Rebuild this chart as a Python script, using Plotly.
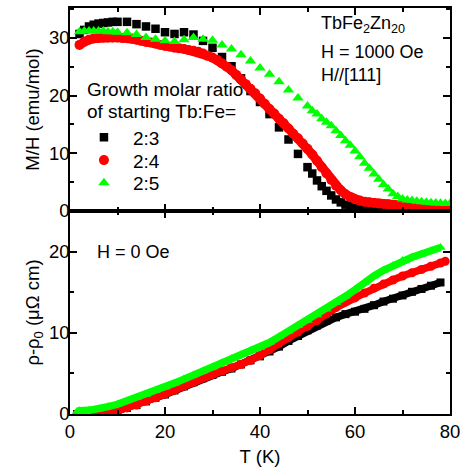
import plotly.graph_objects as go
from plotly.subplots import make_subplots

# ---------------- data: top panel, M/H (emu/mol) vs T (K) ----------------
t_23 = [2, 3, 4, 5, 6, 7, 8, 9, 10, 12, 14, 16, 18, 20, 22, 24, 26, 28, 30, 32, 34, 36, 38,
        40, 42, 44, 46, 48, 50, 51, 52, 53, 54, 55, 56, 57, 58, 59, 60, 61, 62, 63, 64, 65,
        66, 67, 68, 70, 72, 74, 76, 78]
m_23 = [30.7, 31.4, 32.0, 32.3, 32.5, 32.6, 32.7, 32.8, 32.8, 32.8, 32.4, 32.0, 31.6, 31.0,
        30.7, 31.0, 30.6, 29.5, 28.3, 26.7, 25.1, 23.0, 20.8, 18.9, 16.8, 14.5, 12.4, 9.9,
        7.6, 6.5, 5.3, 4.3, 3.5, 2.7, 2.0, 1.5, 1.1, 0.9, 0.7, 0.55, 0.45, 0.38, 0.32, 0.28,
        0.25, 0.23, 0.21, 0.19, 0.17, 0.16, 0.15, 0.14]

t_24 = list(range(2, 81))
m_24 = [28.8, 29.4, 29.7, 29.9, 30.0, 30.1, 30.1, 30.1, 30.1, 30.0, 30.0, 29.9, 29.7, 29.5,
        29.3, 29.2, 29.0, 28.8, 28.6, 28.5, 28.3, 28.2, 28.1, 27.9, 27.8, 27.6, 27.3, 26.9,
        26.6, 26.2, 25.6, 25.0, 24.4, 23.6, 22.8, 22.0, 21.2, 20.4, 19.5, 18.6, 17.7, 16.9,
        16.0, 15.2, 14.3, 13.4, 12.6, 11.7, 10.8, 9.8, 8.7, 7.6, 6.5, 5.4, 4.4, 3.6, 2.9,
        2.4, 2.0, 1.8, 1.6, 1.5, 1.4, 1.3, 1.2, 1.15, 1.1, 1.0, 0.95, 0.85, 0.75, 0.7, 0.6,
        0.55, 0.5, 0.42, 0.36, 0.3, 0.28]

t_25 = [2, 3, 4, 5, 6, 7, 8, 9, 10, 12, 14, 16, 18, 20, 22, 24, 26, 28, 30, 32, 34, 36, 38,
        40, 42, 44, 46, 48, 50, 51, 52, 53, 54, 55, 56, 57, 58, 59, 60, 61, 62, 63, 64, 65,
        66, 67, 68, 69, 70, 71, 72, 73, 74, 75, 76, 77, 78, 79, 80]
m_25 = [31.1, 31.2, 31.2, 31.2, 31.2, 31.2, 31.1, 31.1, 31.0, 30.9, 30.6, 30.1, 29.8, 29.5,
        29.4, 29.7, 30.1, 29.8, 29.6, 28.8, 28.1, 27.1, 26.0, 24.8, 23.7, 22.4, 21.0, 19.6,
        18.2, 17.4, 16.8, 16.0, 15.4, 14.8, 13.9, 13.1, 12.2, 11.4, 10.4, 9.4, 8.3, 7.4, 6.4,
        5.5, 4.6, 3.8, 3.0, 2.5, 2.1, 1.9, 1.8, 1.7, 1.6, 1.5, 1.45, 1.4, 1.35, 1.3, 1.3]

# ---------------- data: bottom panel, rho - rho0 (uOhm cm) vs T (K) ----------------
tr_23 = [1.5, 2, 4, 6, 8, 10, 12, 14, 16, 18, 20, 22, 24, 26, 28, 30, 32, 34, 36, 38, 40, 42,
         44, 46, 48, 50, 52, 54, 56, 58, 60, 62, 64, 66, 68, 70, 72, 74, 76, 78]
r_23 = [0.0, 0.0, 0.0, 0.0, 0.1, 0.4, 0.75, 1.1, 1.55, 2.0, 2.4, 2.9, 3.4, 3.9, 4.4, 4.8, 5.2,
        5.6, 6.1, 6.6, 7.1, 7.7, 8.3, 9.0, 9.6, 10.3, 10.9, 11.5, 11.9, 12.3, 12.6, 12.95,
        13.4, 13.85, 14.2, 14.6, 15.05, 15.4, 15.8, 16.2]

tr_24 = [1.5, 2, 4, 6, 8, 10, 12, 14, 16, 18, 20, 22, 24, 26, 28, 30, 32, 34, 36, 38, 40, 42,
         44, 46, 48, 50, 52, 54, 56, 58, 60, 62, 64, 66, 68, 70, 72, 74, 76, 78, 79]
r_24 = [0.0, 0.0, 0.0, 0.0, 0.1, 0.4, 0.75, 1.1, 1.6, 2.0, 2.45, 2.95, 3.45, 3.95, 4.5, 4.9,
        5.3, 5.7, 6.1, 6.6, 7.2, 7.9, 8.7, 9.4, 10.1, 10.8, 11.5, 12.3, 13.1, 13.8, 14.3,
        14.9, 15.5, 16.0, 16.5, 17.0, 17.4, 17.8, 18.2, 18.6, 18.8]

tr_25 = [1.5, 2, 4, 6, 8, 10, 12, 14, 16, 18, 20, 22, 24, 26, 28, 30, 32, 34, 36, 38, 40, 42,
         44, 46, 48, 50, 52, 54, 56, 58, 60, 62, 64, 66, 68, 70, 72, 74, 76, 78]
r_25 = [0.3, 0.4, 0.45, 0.6, 0.9, 1.2, 1.6, 2.0, 2.4, 2.9, 3.3, 3.8, 4.3, 4.8, 5.3, 5.8, 6.3,
        6.8, 7.3, 7.8, 8.2, 8.8, 9.5, 10.2, 10.9, 11.5, 12.2, 12.9, 13.7, 14.5, 15.3, 16.2,
        17.0, 17.7, 18.3, 18.9, 19.3, 19.7, 20.1, 20.5]

labels = ["2:3", "2:4", "2:5"]
colors = ["#000000", "#FF0000", "#00FF00"]
symbols = ["square", "circle", "triangle-up"]
legend_title_lines = ["Growth molar ratio", "of starting Tb:Fe="]

FONT = "Arial, 'Liberation Sans', Helvetica, sans-serif"

fig = make_subplots(rows=2, cols=1, shared_xaxes=True, vertical_spacing=0)

# top panel
fig.add_trace(go.Scatter(x=t_23, y=m_23, mode="markers", name=labels[0], legend="legend",
                         marker=dict(symbol=symbols[0], size=8.5, color=colors[0])), row=1, col=1)
fig.add_trace(go.Scatter(x=t_24, y=m_24, mode="lines", showlegend=False, hoverinfo="skip",
                         line=dict(color=colors[1], width=9)), row=1, col=1)
fig.add_trace(go.Scatter(x=t_24, y=m_24, mode="markers", name=labels[1], legend="legend2",
                         marker=dict(symbol=symbols[1], size=10, color=colors[1])), row=1, col=1)
fig.add_trace(go.Scatter(x=t_25, y=m_25, mode="markers", name=labels[2], legend="legend3",
                         marker=dict(symbol=symbols[2], size=10, color=colors[2])), row=1, col=1)

# bottom panel
fig.add_trace(go.Scatter(x=tr_23, y=r_23, mode="lines+markers", showlegend=False,
                         line=dict(color=colors[0], width=7.5),
                         marker=dict(symbol=symbols[0], size=8, color=colors[0])), row=2, col=1)
fig.add_trace(go.Scatter(x=tr_24, y=r_24, mode="lines+markers", showlegend=False,
                         line=dict(color=colors[1], width=7.5),
                         marker=dict(symbol=symbols[1], size=9, color=colors[1])), row=2, col=1)
fig.add_trace(go.Scatter(x=tr_25, y=r_25, mode="lines+markers", showlegend=False,
                         line=dict(color=colors[2], width=7.5),
                         marker=dict(symbol=symbols[2], size=9, color=colors[2])), row=2, col=1)

axis_common = dict(showline=True, linecolor="black", linewidth=1.5, mirror="ticks",
                   ticks="inside", ticklen=7, tickwidth=1.5, tickcolor="black",
                   showgrid=False, zeroline=False,
                   tickfont=dict(family=FONT, size=18.5, color="black"))

fig.update_xaxes(range=[0, 80], dtick=20, tick0=0,
                 minor=dict(ticks="inside", ticklen=4, tickwidth=1.5, dtick=10, tickcolor="black"),
                 **axis_common)
fig.update_xaxes(showticklabels=False, row=1, col=1)
fig.update_xaxes(title=dict(text="T (K)", font=dict(family=FONT, size=18.5, color="black"), standoff=9),
                 row=2, col=1)

fig.update_yaxes(minor=dict(ticks="inside", ticklen=4, tickwidth=1.5, dtick=5, tickcolor="black"),
                 ticklabelstandoff=-5, **axis_common)
fig.update_yaxes(range=[0, 35.2], dtick=10, tick0=0, domain=[0.5, 1.0],
                 title=dict(text="M/H (emu/mol)", font=dict(family=FONT, size=18.5, color="black"),
                            standoff=4),
                 row=1, col=1)
fig.update_yaxes(range=[0, 25], dtick=10, tick0=0, domain=[0.0, 0.5],
                 title=dict(text="ρ-ρ<sub>0</sub> (μΩ cm)", font=dict(family=FONT, size=18.5, color="black"),
                            standoff=4),
                 row=2, col=1)

ann_font = dict(family=FONT, size=18, color="black")
leg_font = dict(family=FONT, size=19, color="black")
fig.add_annotation(x=0.654, y=0.959, xref="paper", yref="paper", xanchor="left", yanchor="middle",
                   text="TbFe<sub>2</sub>Zn<sub>20</sub>", showarrow=False, font=ann_font)
fig.add_annotation(x=0.654, y=0.892, xref="paper", yref="paper", xanchor="left", yanchor="middle",
                   text="H = 1000 Oe", showarrow=False, font=ann_font)
fig.add_annotation(x=0.654, y=0.836, xref="paper", yref="paper", xanchor="left", yanchor="middle",
                   text="H//[111]", showarrow=False, font=ann_font)
fig.add_annotation(x=0.065, y=0.400, xref="paper", yref="paper", xanchor="left", yanchor="middle",
                   text="H = 0 Oe", showarrow=False, font=ann_font)
# legend heading (two lines)
fig.add_annotation(x=0.039, y=0.799, xref="paper", yref="paper", xanchor="left", yanchor="middle",
                   text=legend_title_lines[0], showarrow=False, font=leg_font)
fig.add_annotation(x=0.039, y=0.745, xref="paper", yref="paper", xanchor="left", yanchor="middle",
                   text=legend_title_lines[1], showarrow=False, font=leg_font)

leg_common = dict(x=0.013, xanchor="left", yanchor="middle", bgcolor="rgba(0,0,0,0)",
                  borderwidth=0, font=leg_font, itemsizing="trace", itemwidth=48)

fig.update_layout(
    width=466, height=470,
    margin=dict(l=70, r=14, t=6, b=56),
    paper_bgcolor="white", plot_bgcolor="white",
    font=dict(family=FONT, size=18, color="black"),
    showlegend=True,
    legend=dict(y=0.681, **leg_common),
    legend2=dict(y=0.625, **leg_common),
    legend3=dict(y=0.569, **leg_common),
)

fig.write_html("out.html")
